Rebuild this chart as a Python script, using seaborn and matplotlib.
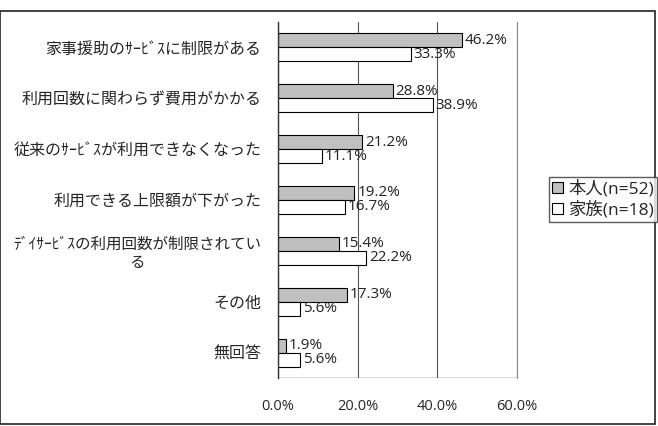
import pandas as pd
import matplotlib.pyplot as plt
import matplotlib.patches as mpatches
from matplotlib.ticker import FuncFormatter, FixedLocator
import seaborn as sns

# データ
categories = [
    '家事援助のｻｰﾋﾞｽに制限がある',
    '利用回数に関わらず費用がかかる',
    '従来のｻｰﾋﾞｽが利用できなくなった',
    '利用できる上限額が下がった',
    'ﾃﾞｲｻｰﾋﾞｽの利用回数が制限されてい\nる',
    'その他',
    '無回答',
]
honnin = [46.2, 28.8, 21.2, 19.2, 15.4, 17.3, 1.9]
kazoku = [33.3, 38.9, 11.1, 16.7, 22.2, 5.6, 5.6]
series_names = ['本人(n=52)', '家族(n=18)']

df = pd.DataFrame({
    'category': categories * 2,
    'value': honnin + kazoku,
    'group': [series_names[0]] * len(categories) + [series_names[1]] * len(categories),
})

sns.set_style('white')
plt.rcParams['font.family'] = ['Open Sans', 'Noto Sans CJK JP', 'DejaVu Sans']

fig = plt.figure(figsize=(6.58, 4.26), dpi=100)
ax = fig.add_axes([0.4225, 0.1127, 0.3632, 0.8357])

sns.barplot(
    data=df, y='category', x='value', hue='group', orient='h',
    palette=['#c0c0c0', '#ffffff'], edgecolor='black', linewidth=0.8,
    width=0.55, ax=ax, legend=False
)

# ラベル
for cont in ax.containers:
    ax.bar_label(cont, fmt='%.1f%%', padding=2, fontsize=11, color='#222222')

ax.set_xlim(0, 60)
ax.set_ylim(6.5, -0.5)
ax.set_xticks([0, 20, 40, 60])
ax.xaxis.set_major_formatter(FuncFormatter(lambda v, p: f'{v:.1f}%'))
ax.tick_params(axis='x', length=0, pad=15, labelsize=10.5)
ax.tick_params(axis='y', which='major', length=0, pad=12, labelsize=11.5)
for t in ax.get_yticklabels():
    t.set_multialignment('center')
    if t.get_text().startswith('ﾃﾞｲ'):
        t.set_fontsize(11.2)
ax.yaxis.set_minor_locator(FixedLocator([k - 0.5 for k in range(8)]))
ax.tick_params(axis='y', which='minor', direction='in', length=4, color='#444444')
ax.set_xlabel('')
ax.set_ylabel('')

ax.grid(axis='x', color='#555555', linewidth=0.8)
ax.set_axisbelow(True)
for s in ['top', 'bottom']:
    ax.spines[s].set_visible(False)
ax.spines['left'].set_color('#333333')
ax.spines['left'].set_linewidth(1.0)
ax.spines['right'].set_color('#888888')
ax.spines['right'].set_linewidth(0.8)
ax.axhline(6.5, color='#333333', linewidth=1.0)

# 凡例
handles = [
    mpatches.Patch(facecolor='#c0c0c0', edgecolor='black', linewidth=0.8, label=series_names[0]),
    mpatches.Patch(facecolor='#ffffff', edgecolor='black', linewidth=0.8, label=series_names[1]),
]
fig.legend(
    handles=handles, loc='upper left', bbox_to_anchor=(549 / 658, 1 - 177 / 426),
    fontsize=12.5, frameon=True, fancybox=False, edgecolor='#333333',
    handlelength=0.6, handleheight=0.6, handletextpad=0.3,
    borderpad=0.2, labelspacing=0.2, borderaxespad=0
)

# 外枠
fig.patches.append(mpatches.Rectangle(
    (0.0, 1 - 424 / 426), 655 / 658, (424 - 11) / 426,
    transform=fig.transFigure, fill=False, edgecolor='#222222', linewidth=1.2
))

fig.savefig('out.png', dpi=100)
